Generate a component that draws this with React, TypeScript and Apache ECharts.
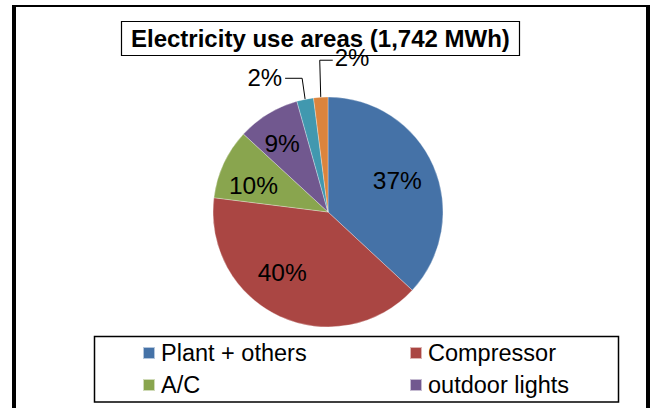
import React, { useEffect, useRef } from "react";
import * as echarts from "echarts";

const titleText = "Electricity use areas (1,742 MWh)";
const categories = ["Plant + others", "Compressor", "A/C", "outdoor lights", "lab equipment", "office"];
const valuesMWh = [643, 698, 172, 153, 41, 35];
const legendLeftColumn = ["Plant + others", "A/C"];
const legendRightColumn = ["Compressor", "outdoor lights"];
const colors = ["#4572A7", "#AA4643", "#89A54E", "#71588F", "#4198AF", "#DB843D"];

const FONT = "'Liberation Sans', Arial, Helvetica, sans-serif";
const CX = 328;
const CY = 212;
const R = 115;

function pctLabel(p: any) {
  return Math.round(p.percent) + "%";
}

export default function App() {
  const ref = useRef<HTMLDivElement>(null);
  useEffect(() => {
    if (!ref.current) return;
    const chart = echarts.init(ref.current, undefined, { renderer: "svg" });
    const total = valuesMWh.reduce((a, b) => a + b, 0);
    const edgePoint = (i: number) => {
      let cum = 0;
      for (let k = 0; k < i; k++) cum += valuesMWh[k];
      const mid = ((cum + valuesMWh[i] / 2) / total) * Math.PI * 2;
      return [CX + R * Math.sin(mid), CY - R * Math.cos(mid)];
    };

    const mainData = categories.map((name, i) => ({
      name,
      value: valuesMWh[i],
      itemStyle: { color: colors[i] },
      label: { show: i >= 4 },
      labelLine: { show: i >= 4 },
    }));
    const overlayData = categories.map((name, i) => ({
      name,
      value: valuesMWh[i],
      label: { show: i < 4 },
    }));

    const legendText = {
      fontFamily: FONT,
      fontSize: 23.5,
      color: "#000",
      lineHeight: 26,
      padding: [0, 0, 0, 1],
    };

    chart.setOption({
      animation: false,
      backgroundColor: "#ffffff",
      title: {
        text: titleText,
        left: 121,
        top: 21,
        padding: [4, 10, 4, 10],
        borderColor: "#000",
        borderWidth: 1.2,
        textStyle: {
          fontFamily: FONT,
          fontSize: 24,
          fontWeight: "bold",
          color: "#000",
          lineHeight: 27,
        },
        z: 1,
      },
      legend: [
        {
          data: legendLeftColumn,
          orient: "vertical",
          left: 137,
          top: 335,
          itemWidth: 12,
          itemHeight: 12,
          itemGap: 6,
          icon: "rect",
          selectedMode: false,
          textStyle: legendText,
        },
        {
          data: legendRightColumn,
          orient: "vertical",
          left: 404,
          top: 335,
          itemWidth: 12,
          itemHeight: 12,
          itemGap: 6,
          icon: "rect",
          selectedMode: false,
          textStyle: legendText,
        },
      ],
      graphic: [
        { type: "rect", shape: { x: 12, y: 5, width: 638, height: 2 }, style: { fill: "#000" }, silent: true },
        { type: "rect", shape: { x: 12, y: 5, width: 4, height: 403 }, style: { fill: "#000" }, silent: true },
        { type: "rect", shape: { x: 646, y: 5, width: 4, height: 403 }, style: { fill: "#000" }, silent: true },
        {
          type: "rect",
          shape: { x: 94.5, y: 336.5, width: 524, height: 65.5 },
          style: { fill: "none", stroke: "#000", lineWidth: 1.5 },
          silent: true,
        },
      ],
      series: [
        {
          type: "pie",
          center: [CX, CY],
          radius: [0, R],
          startAngle: 90,
          clockwise: true,
          avoidLabelOverlap: false,
          silent: true,
          z: 2,
          itemStyle: { borderColor: "rgba(255,255,255,0.6)", borderWidth: 0.5 },
          label: {
            position: "outside",
            formatter: pctLabel,
            fontFamily: FONT,
            fontSize: 24,
            color: "#000",
          },
          labelLine: { show: true, lineStyle: { color: "#000", width: 1 } },
          labelLayout: (params: any) => {
            const i = params.dataIndex;
            if (i < 4) return {};
            const [px, py] = edgePoint(i);
            if (i === 4) {
              return {
                x: px - 23,
                y: py - 22,
                align: "right",
                verticalAlign: "middle",
                labelLinePoints: [
                  [px, py],
                  [px - 3, py - 21],
                  [px - 20, py - 21],
                ],
              };
            }
            return {
              x: px + 14,
              y: py - 40,
              align: "left",
              verticalAlign: "middle",
              labelLinePoints: [
                [px, py],
                [px - 1, py - 37],
                [px + 12, py - 37],
              ],
            };
          },
          emphasis: { disabled: true },
          data: mainData,
        },
        {
          type: "pie",
          center: [CX, CY],
          radius: [39, R],
          startAngle: 90,
          clockwise: true,
          avoidLabelOverlap: false,
          silent: true,
          z: 3,
          itemStyle: { color: "rgba(0,0,0,0)" },
          label: {
            position: "inside",
            formatter: pctLabel,
            fontFamily: FONT,
            fontSize: 24.5,
            color: "#000",
          },
          labelLine: { show: false },
          labelLayout: (params: any) => {
            if (params.dataIndex === 1) return { dx: -12, dy: -12 };
            if (params.dataIndex === 2) return { dx: -2, dy: 7 };
            if (params.dataIndex === 3) return { dx: -4, dy: 0 };
            if (params.dataIndex === 0) return { dx: -4, dy: 0 };
            return {};
          },
          emphasis: { disabled: true },
          data: overlayData,
        },
      ],
    });
    return () => chart.dispose();
  }, []);
  return (
    <div
      ref={ref}
      style={{ position: "fixed", left: 0, top: 0, width: 653, height: 408, background: "#fff" }}
    />
  );
}
